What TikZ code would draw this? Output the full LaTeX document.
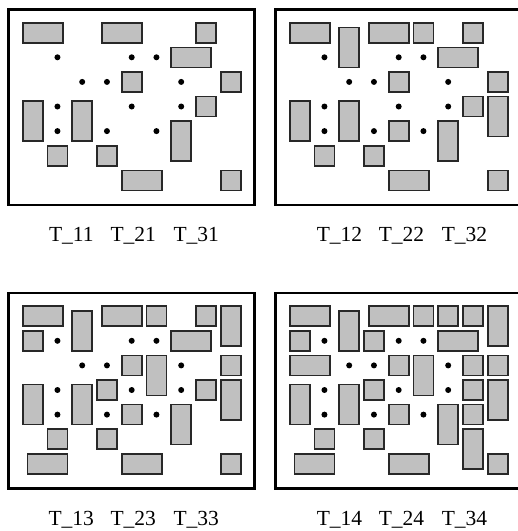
\documentclass[tikz,border=0pt]{standalone}
\usepackage{fontspec}
\setmainfont{Liberation Serif}
\tikzset{
  blk/.style={draw={rgb,255:red,40;green,40;blue,40}, line width=1.6pt, fill={rgb,255:red,192;green,192;blue,192}},
  frm/.style={draw=black, line width=2.6pt},
  dotm/.style={fill=black},
  lbl/.style={anchor=base, inner sep=0pt, font=\fontsize{21.5}{24}\selectfont}
}
\newcommand{\mybx}[4]{\draw[blk] (#1,#2) rectangle ++(#3,#4);}
\newcommand{\mysq}[2]{\mybx{#1}{#2}{20}{20}}
\newcommand{\mywide}[2]{\mybx{#1}{#2}{40}{20}}
\newcommand{\mytall}[2]{\mybx{#1}{#2}{20}{40}}
\newcommand{\basepanel}{%
  \draw[frm] (8.5,9.5) rectangle (254.7,205);
  \mywide{22.7}{22.7}\mywide{101.7}{22.7}\mysq{195.95}{22.7}\mywide{171.2}{47.3}
  \mysq{121.7}{71.9}\mysq{220.7}{71.9}
  \mytall{22.7}{101}\mytall{72.2}{101}\mysq{195.95}{96.5}\mytall{171.2}{121.1}
  \mysq{47.45}{145.7}\mysq{96.95}{145.7}\mywide{121.7}{170.3}\mysq{220.7}{170.3}
  \foreach \cx/\cy in {57.45/57.3,131.7/57.3,156.45/57.3,
                       82.2/81.9,106.95/81.9,181.2/81.9,
                       57.45/106.5,131.7/106.5,181.2/106.5,
                       57.45/131.1,106.95/131.1,156.45/131.1}
    {\fill[dotm] (\cx,\cy) circle (3);}
}
\newcommand{\addtwo}{\mytall{72.2}{27.3}\mysq{146.45}{22.7}\mytall{220.7}{96.5}\mysq{121.7}{121.1}}
\newcommand{\addthree}{\mytall{220.7}{22.7}\mysq{22.7}{47.3}\mytall{146.45}{71.9}\mysq{96.95}{96.5}\mywide{27.45}{170.3}}
\newcommand{\addfour}{\mysq{171.2}{22.7}\mysq{96.95}{47.3}\mywide{22.7}{71.9}\mysq{195.95}{71.9}\mysq{195.95}{121.1}\mytall{195.95}{145.7}}
\begin{document}
\begin{tikzpicture}[x=1pt,y=-1pt]
\useasboundingbox (0,0) rectangle (518,531);
\fill[white] (0,0) rectangle (518,531);
% panel 1
\begin{scope}
  \basepanel
  \node[lbl] (l11) at (71.3,241.7) {T\_11};
  \node[lbl] (l21) at (133.3,241.7) {T\_21};
  \node[lbl] (l31) at (196.3,241.7) {T\_31};
\end{scope}
% panel 2
\begin{scope}[shift={(267,0)}]
  \basepanel\addtwo
  \node[lbl] (l12) at (72.5,241.7) {T\_12};
  \node[lbl] (l22) at (134.5,241.7) {T\_22};
  \node[lbl] (l32) at (197.5,241.7) {T\_32};
\end{scope}
% panel 3
\begin{scope}[shift={(0,283.5)}]
  \basepanel\addtwo\addthree
  \node[lbl] (l13) at (71.3,241.7) {T\_13};
  \node[lbl] (l23) at (133.3,241.7) {T\_23};
  \node[lbl] (l33) at (196.3,241.7) {T\_33};
\end{scope}
% panel 4
\begin{scope}[shift={(267,283.5)}]
  \basepanel\addtwo\addthree\addfour
  \node[lbl] (l14) at (72.5,241.7) {T\_14};
  \node[lbl] (l24) at (134.5,241.7) {T\_24};
  \node[lbl] (l34) at (197.5,241.7) {T\_34};
\end{scope}
\end{tikzpicture}
\end{document}
